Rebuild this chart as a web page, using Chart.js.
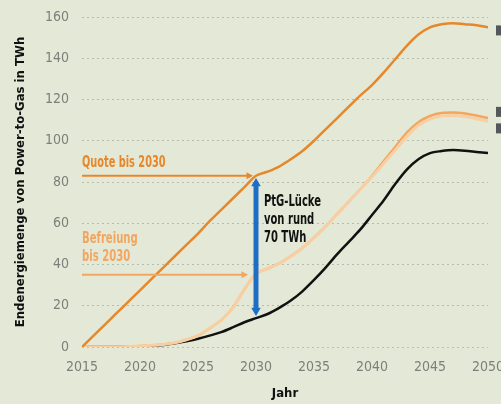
<!DOCTYPE html>
<html>
<head>
<meta charset="utf-8">
<script src="https://cdn.jsdelivr.net/npm/chart.js@4.4.1/dist/chart.umd.min.js"></script>
<style>
  html, body { margin: 0; padding: 0; background: #e3e9d6; }
  #wrap { width: 501px; height: 404px; position: relative; }
</style>
</head>
<body>
<div id="wrap"><canvas id="chart"></canvas></div>
<script>
// Jahre und Werte (TWh)
const years = [2015, 2016, 2017, 2018, 2019, 2020, 2021, 2022, 2023, 2024, 2025, 2026,
  2027, 2028, 2029, 2030, 2031, 2032, 2033, 2034, 2035, 2036, 2037, 2038, 2039, 2040,
  2041, 2042, 2043, 2044, 2045, 2046, 2047, 2048, 2049, 2050];

const quote = [0, 5.5, 11, 16.5, 22, 27.5, 33, 38.5, 44, 49.5, 55, 61,
  66.5, 72, 77.5, 83, 85, 87.5, 91, 95, 100, 105.5, 111, 116.5, 122, 127,
  133, 139.5, 146, 151.5, 155, 156.5, 157, 156.5, 156, 155];

const befreiung = [0, 0, 0, 0, 0.2, 0.5, 0.8, 1.2, 2, 3.5, 5.5, 9,
  13, 19, 28, 35.5, 38, 40.5, 44, 48, 53, 58.5, 64.5, 70.5, 76.5, 83,
  90, 97, 104, 109, 112, 113.5, 113.7, 113.2, 112.2, 111];

const befreiungHell = [0, 0, 0, 0, 0.2, 0.5, 0.8, 1.2, 2, 3.5, 5.5, 9,
  13, 19, 28, 35.5, 38, 40.5, 44, 48, 53, 58.5, 64.5, 70.5, 76.5, 82.5,
  89, 95.5, 102, 107.5, 110.5, 112, 112.2, 111.7, 110.7, 109.5];

const basis = [0, 0, 0, 0, 0, 0.3, 0.6, 1, 1.8, 2.8, 4, 5.5,
  7.2, 9.5, 12, 14, 16, 19, 22.5, 27, 32.5, 38.5, 45, 51, 57, 64,
  71, 79, 86, 91, 94, 95, 95.5, 95.2, 94.6, 94];

const yTicks = [0, 20, 40, 60, 80, 100, 120, 140, 160];
const xTicks = [2015, 2020, 2025, 2030, 2035, 2040, 2045, 2050];

// Beschriftungen im Diagramm
const quoteArrow = [2015, 2030, 83];       // von, bis, Höhe
const befreiungArrow = [2015, 2030, 35];
const gapArrow = [2030, 82, 15];           // Jahr, oben, unten
const gapText = ["PtG-Lücke", "von rund", "70 TWh"];
const endLabels = [153.5, 114, 106];       // rechts abgeschnittene Kästchen

const narrow = "'Liberation Sans Narrow', 'DejaVu Sans Condensed', 'Liberation Sans', sans-serif";

const C = {
  bg: "#e3e9d6",
  quote: "#e8872a",
  befreiung: "#f2a660",
  hell: "#f8cfa2",
  basis: "#111111",
  blue: "#1d6ec4",
  grid: "rgba(175,182,168,0.9)",
  tick: "#7d7f7a"
};

const pts = (arr) => years.map((y, i) => ({ x: y, y: arr[i] }));

function arrowHead(ctx, x, y, dir, size) {
  ctx.beginPath();
  if (dir === "right") {
    ctx.moveTo(x, y);
    ctx.lineTo(x - size * 1.3, y - size * 0.7);
    ctx.lineTo(x - size * 1.3, y + size * 0.7);
  } else if (dir === "up") {
    ctx.moveTo(x, y);
    ctx.lineTo(x - size * 0.8, y + size * 1.4);
    ctx.lineTo(x + size * 0.8, y + size * 1.4);
  } else {
    ctx.moveTo(x, y);
    ctx.lineTo(x - size * 0.8, y - size * 1.4);
    ctx.lineTo(x + size * 0.8, y - size * 1.4);
  }
  ctx.closePath();
  ctx.fill();
}

// schmale Schrift: horizontal gestaucht zeichnen
function condensedText(ctx, text, x, y, squeeze) {
  ctx.save();
  ctx.translate(x, y);
  ctx.scale(squeeze, 1);
  ctx.fillText(text, 0, 0);
  ctx.restore();
}

const annotations = {
  id: "annotations",
  afterDatasetsDraw(chart) {
    const { ctx, scales: { x, y } } = chart;
    ctx.save();

    // Quote-Pfeil
    let x0 = x.getPixelForValue(quoteArrow[0]);
    let x1 = x.getPixelForValue(quoteArrow[1]) - 3;
    let yy = y.getPixelForValue(quoteArrow[2]);
    ctx.strokeStyle = C.quote;
    ctx.fillStyle = C.quote;
    ctx.lineWidth = 2;
    ctx.beginPath(); ctx.moveTo(x0, yy); ctx.lineTo(x1 - 6, yy); ctx.stroke();
    arrowHead(ctx, x1, yy, "right", 5);

    // Befreiung-Pfeil
    x0 = x.getPixelForValue(befreiungArrow[0]);
    x1 = x.getPixelForValue(befreiungArrow[1]) - 8;
    yy = y.getPixelForValue(befreiungArrow[2]);
    ctx.strokeStyle = C.befreiung;
    ctx.fillStyle = C.befreiung;
    ctx.beginPath(); ctx.moveTo(x0, yy); ctx.lineTo(x1 - 6, yy); ctx.stroke();
    arrowHead(ctx, x1, yy, "right", 5);

    // PtG-Lücke (Doppelpfeil)
    const gx = x.getPixelForValue(gapArrow[0]);
    const gTop = y.getPixelForValue(gapArrow[1]);
    const gBot = y.getPixelForValue(gapArrow[2]);
    ctx.strokeStyle = C.blue;
    ctx.fillStyle = C.blue;
    ctx.lineWidth = 5;
    ctx.beginPath(); ctx.moveTo(gx, gTop + 8); ctx.lineTo(gx, gBot - 8); ctx.stroke();
    arrowHead(ctx, gx, gTop, "up", 6);
    arrowHead(ctx, gx, gBot, "down", 6);

    // Texte
    ctx.textBaseline = "alphabetic";
    ctx.textAlign = "left";
    ctx.font = "bold 16px " + narrow;
    ctx.fillStyle = C.quote;
    condensedText(ctx, "Quote bis 2030", x.getPixelForValue(2015), y.getPixelForValue(87.5), 0.68);

    ctx.fillStyle = C.befreiung;
    condensedText(ctx, "Befreiung", x.getPixelForValue(2015), y.getPixelForValue(50.5), 0.7);
    condensedText(ctx, "bis 2030", x.getPixelForValue(2015), y.getPixelForValue(41.5), 0.7);

    ctx.fillStyle = "#111";
    ctx.font = "bold 15px " + narrow;
    gapText.forEach((t, i) => {
      condensedText(ctx, t, gx + 8, y.getPixelForValue(68.5 - i * 8.8), 0.74);
    });

    // abgeschnittene Endbeschriftungen rechts
    ctx.fillStyle = "#55575a";
    endLabels.forEach((v) => {
      const py = y.getPixelForValue(v);
      ctx.fillRect(chart.width - 5, py - 5, 5, 10);
    });

    ctx.restore();
  }
};

new Chart(document.getElementById("chart"), {
  type: "line",
  data: {
    datasets: [
      { label: "Quote", data: pts(quote), borderColor: C.quote, borderWidth: 2.5 },
      { label: "Befreiung hell", data: pts(befreiungHell), borderColor: C.hell, borderWidth: 3 },
      { label: "Befreiung", data: pts(befreiung), borderColor: C.befreiung, borderWidth: 2.5 },
      { label: "Basis", data: pts(basis), borderColor: C.basis, borderWidth: 2.5 }
    ]
  },
  options: {
    responsive: true,
    maintainAspectRatio: false,
    animation: false,
    layout: { padding: { top: 17, right: 13, left: 0, bottom: 0 } },
    elements: {
      point: { radius: 0 },
      line: { cubicInterpolationMode: "monotone", fill: false }
    },
    plugins: {
      legend: { display: false },
      tooltip: { enabled: false }
    },
    scales: {
      x: {
        type: "linear",
        min: 2015,
        max: 2050,
        afterBuildTicks: (s) => { s.ticks = xTicks.map(v => ({ value: v })); },
        afterFit: (s) => { s.paddingLeft = 0; s.paddingRight = 0; s.height = 57; },
        grid: { display: false, drawTicks: false },
        border: { display: false },
        ticks: {
          color: C.tick,
          font: { family: narrow, size: 14 },
          padding: 12,
          maxRotation: 0,
          callback: (v) => String(v)
        },
        title: {
          display: true,
          text: "Jahr",
          color: "#111",
          font: { family: narrow, size: 13, weight: "bold" },
          padding: { top: 0, bottom: 3 }
        }
      },
      y: {
        min: 0,
        max: 160,
        afterBuildTicks: (s) => { s.ticks = yTicks.map(v => ({ value: v })); },
        afterFit: (s) => { s.width = 82; s.paddingTop = 0; s.paddingBottom = 0; },
        grid: {
          drawTicks: false,
          color: (c) => c.tick && c.tick.value === 0 ? "rgba(185,192,178,1)" : C.grid,
          lineWidth: 1
        },
        border: { display: false, dash: [2, 3] },
        ticks: {
          color: C.tick,
          font: { family: narrow, size: 14 },
          padding: 13
        },
        title: {
          display: true,
          text: "Endenergiemenge von Power-to-Gas in TWh",
          color: "#111",
          font: { family: narrow, size: 13, weight: "bold" },
          padding: { top: 13, bottom: 0 }
        }
      }
    }
  },
  plugins: [annotations]
});
</script>
</body>
</html>
